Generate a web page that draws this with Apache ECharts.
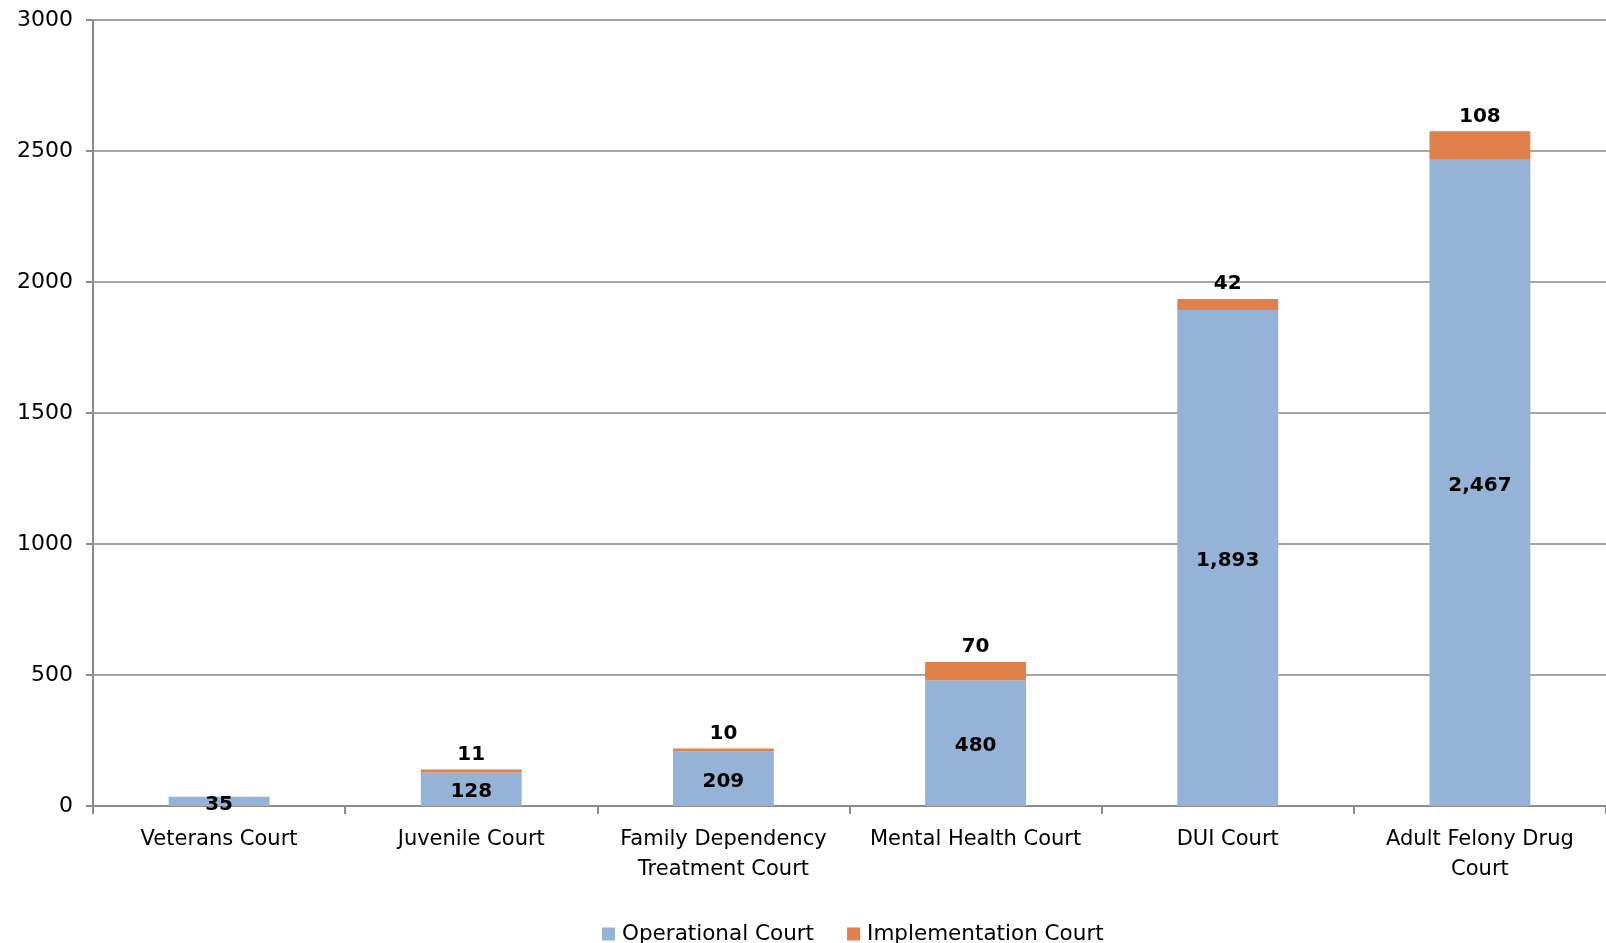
<!DOCTYPE html>
<html>
<head>
<meta charset="utf-8">
<script src="https://cdn.jsdelivr.net/npm/echarts@6/dist/echarts.min.js"></script>
<style>
  html, body { margin: 0; padding: 0; background: #fff; }
  #chart { width: 1606px; height: 943px; }
</style>
</head>
<body>
<div id="chart"></div>
<script>
// categories and values
const courts = ['Veterans Court', 'Juvenile Court', 'Family Dependency\nTreatment Court',
                'Mental Health Court', 'DUI Court', 'Adult Felony Drug\nCourt'];
const operational = [35, 128, 209, 480, 1893, 2467];
const implementation = [null, 11, 10, 70, 42, 108];
const yTicks = [0, 500, 1000, 1500, 2000, 2500, 3000];

const font = '"DejaVu Sans", sans-serif';
const gray = '#8c8c8c';

var myChart = echarts.init(document.getElementById('chart'));

let option = {
    animation: false,
    textStyle: { fontFamily: font },
    grid: { left: 93, right: 0, top: 20, bottom: 137 },
    legend: {
        top: 918,
        left: 597,
        itemWidth: 13,
        itemHeight: 13,
        itemGap: 33,
        icon: 'rect',
        textStyle: { fontSize: 21.5, color: '#000', fontFamily: font, padding: [0, 0, 0, 2] },
        data: ['Operational Court', 'Implementation Court']
    },
    xAxis: {
        type: 'category',
        data: courts,
        axisLine: { lineStyle: { color: gray, width: 2 } },
        axisTick: { show: true, length: 8, lineStyle: { color: gray, width: 2 } },
        axisLabel: { interval: 0, fontSize: 21, color: '#000', margin: 19, lineHeight: 30, fontFamily: font }
    },
    yAxis: {
        type: 'value',
        min: yTicks[0],
        max: yTicks[yTicks.length - 1],
        interval: 500,
        axisLine: { show: true, lineStyle: { color: gray, width: 2 } },
        axisTick: { show: true, length: 7, lineStyle: { color: gray, width: 2 } },
        splitLine: { lineStyle: { color: '#a6a6a6', width: 2 } },
        axisLabel: { fontSize: 22, color: '#000', margin: 20, fontFamily: font, formatter: v => String(v) }
    },
    series: [
        {
            name: 'Operational Court',
            type: 'bar',
            stack: 'total',
            barWidth: '40%',
            itemStyle: { color: '#95b3d7' },
            label: {
                show: true,
                position: 'inside',
                offset: [0, 3],
                fontSize: 20,
                fontWeight: 'bold',
                color: '#000',
                fontFamily: font,
                formatter: p => p.value.toLocaleString('en-US')
            },
            data: operational
        },
        {
            name: 'Implementation Court',
            type: 'bar',
            stack: 'total',
            barWidth: '40%',
            itemStyle: { color: '#e0804a' },
            label: {
                show: true,
                position: 'top',
                distance: 5,
                fontSize: 20,
                fontWeight: 'bold',
                color: '#000',
                fontFamily: font
            },
            data: implementation
        }
    ]
};

myChart.setOption(option);
</script>
</body>
</html>
